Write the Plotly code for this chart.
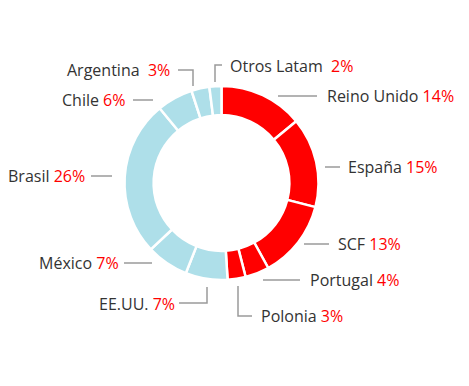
import plotly.graph_objects as go

# ---- data ----
regions = ["Reino Unido", "España", "SCF", "Portugal", "Polonia",
           "EE.UU.", "México", "Brasil", "Chile", "Argentina", "Otros Latam"]
shares = [14, 15, 13, 4, 3, 7, 7, 26, 6, 3, 2]
groups = ["europe"] * 5 + ["america"] * 6

# ---- style / layout ----
W, H = 469, 386
OFF = 8  # page body margin
FW, FH = W - OFF, H - OFF
CX, CY, R = 221.5, 183, 97
GROUP_COLORS = {"europe": "#FF0000", "america": "#AEDFE9"}
NAME_COLOR = "#333333"
PCT_COLOR = "#FF0000"
LINE_COLOR = "#9A9A9A"
FONT = "Open Sans"
FSIZE = 16

# label layout: (text anchor x, y, xanchor, gap between name and pct, leader polyline)
label_layout = {
    "Reino Unido": (325, 96, "left", " ", [(278, 96), (317, 96)]),
    "España": (346, 167, "left", " ", [(325, 167), (340, 167)]),
    "SCF": (336, 244, "left", " ", [(304, 244), (329, 244)]),
    "Portugal": (308, 280, "left", " ", [(263, 280), (300, 280)]),
    "Polonia": (259, 316, "left", " ", [(238, 286), (238, 316), (252, 316)]),
    "EE.UU.": (177, 304, "right", " ", [(207, 287), (207, 303), (179, 303)]),
    "México": (121, 263, "right", " ", [(152, 263), (124, 263)]),
    "Brasil": (87, 176, "right", " ", [(112, 176), (91, 176)]),
    "Chile": (127, 100, "right", " ", [(153, 100), (133, 100)]),
    "Argentina": (172, 70, "right", "&nbsp; ", [(193, 86), (193, 70), (178, 70)]),
    "Otros Latam": (228, 66, "left", "&nbsp; ", [(215, 82), (215, 65), (222, 65)]),
}


def px(x):
    return (x - OFF) / FW


def py(y):
    return 1 - (y - OFF) / FH


fig = go.Figure()
fig.add_trace(go.Pie(
    labels=regions,
    values=shares,
    sort=False,
    direction="clockwise",
    rotation=0,
    hole=0.70,
    textinfo="none",
    hoverinfo="label+percent",
    marker=dict(colors=[GROUP_COLORS[g] for g in groups],
                line=dict(color="white", width=2.5)),
    domain=dict(x=[px(CX - R), px(CX + R)], y=[py(CY + R), py(CY - R)]),
    showlegend=False,
))

annotations = []
shapes = []
for name, val in zip(regions, shares):
    lx, ly, xa, gap, pts = label_layout[name]
    annotations.append(dict(
        x=px(lx), y=py(ly), xref="paper", yref="paper",
        xanchor=xa, yanchor="middle", showarrow=False,
        text=f"<span style='color:{NAME_COLOR}'>{name}</span>{gap}"
             f"<span style='color:{PCT_COLOR}'>{val}%</span>",
        font=dict(family=FONT, size=FSIZE, color=NAME_COLOR),
    ))
    path = "M " + " L ".join(f"{px(x)},{py(y)}" for x, y in pts)
    shapes.append(dict(type="path", xref="paper", yref="paper", path=path,
                       line=dict(color=LINE_COLOR, width=1.5)))

fig.update_layout(
    width=FW, height=FH,
    margin=dict(l=0, r=0, t=0, b=0),
    paper_bgcolor="white", plot_bgcolor="white",
    annotations=annotations, shapes=shapes,
)

fig.write_html("out.html")
